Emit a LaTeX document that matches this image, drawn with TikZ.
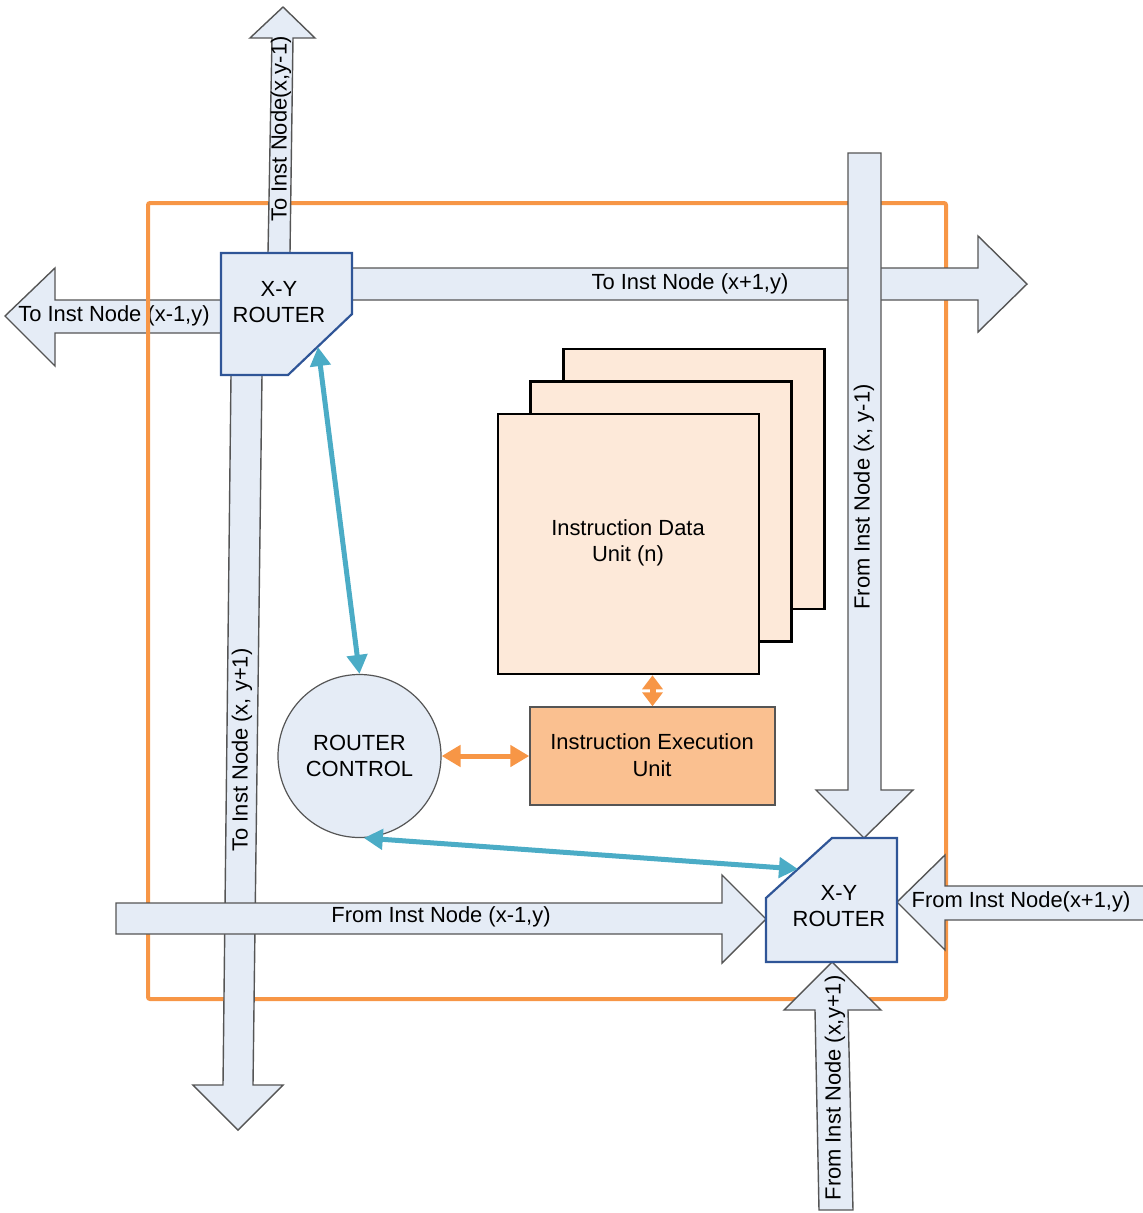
\documentclass[tikz,border=0pt]{standalone}
\usepackage{fontspec}
\setmainfont{Liberation Sans}
\usetikzlibrary{arrows.meta}

\definecolor{frameorange}{HTML}{F79646}
\definecolor{paleblue}{HTML}{E5ECF6}
\definecolor{arrowgray}{HTML}{555555}
\definecolor{routerblue}{HTML}{2F5597}
\definecolor{linkblue}{HTML}{4BACC6}
\definecolor{datafill}{HTML}{FDE9D9}
\definecolor{execfill}{HTML}{FAC090}
\definecolor{linkorange}{HTML}{F79646}

\begin{document}
\begin{tikzpicture}[x=1bp,y=-1bp,
  lbl/.style={font=\fontsize{22}{26.5}\selectfont, inner sep=0pt, align=center, text=black},
  blockarrow/.style={fill=paleblue, draw=arrowgray, line width=1.4bp, line join=miter},
  router/.style={fill=paleblue, draw=routerblue, line width=2.2bp, line join=miter},
  dataunit/.style={rectangle, fill=datafill, draw=black, line width=2.5bp, minimum width=261bp, minimum height=260bp, inner sep=0pt},
  execunit/.style={rectangle, fill=execfill, draw=arrowgray, line width=1.4bp, minimum width=245bp, minimum height=98bp, inner sep=0pt},
  ctrlunit/.style={circle, fill=paleblue, draw=arrowgray, line width=1.2bp, minimum size=163bp, inner sep=0pt},
  bluelink/.style={draw=linkblue, line width=5bp, {Triangle[length=19bp,width=20bp]}-{Triangle[length=19bp,width=20bp]}},
  orangelink/.style={draw=linkorange, line width=5bp, {Triangle[length=19bp,width=21bp]}-{Triangle[length=19bp,width=21bp]}},
  orangeshort/.style={draw=linkorange, line width=6bp, {Triangle[length=14bp,width=20bp]}-{Triangle[length=14bp,width=20bp]}}
]
\useasboundingbox (0,0) rectangle (1143,1213);

% westward output, lying under the tile border
\draw[blockarrow] (221,300) -- (55,300) -- (55,268) -- (5,316) -- (55,366) -- (55,333) -- (221,333);
\node[lbl] (lblW) at (114,316) {To Inst Node (x-1,y)};

% tile border
\draw[frameorange, line width=4bp, rounded corners=2bp] (148,203) rectangle (946,999);

% northward output
\draw[blockarrow] (268,253) -- (272,38) -- (250,38) -- (283,7) -- (315,38) -- (293,38) -- (290,253);
\node[lbl, rotate=90] (lblN) at (281,129) {To Inst Node(x,y-1)};

% eastward output
\draw[blockarrow] (352,268) -- (978,268) -- (978,236) -- (1027,284) -- (978,332) -- (978,300) -- (352,300);
\node[lbl] (lblE) at (690,284) {To Inst Node (x+1,y)};

% southward output
\draw[blockarrow] (231,375) -- (223,1085) -- (193,1085) -- (238,1130) -- (283,1085) -- (253,1085) -- (262,375);
\node[lbl, rotate=90] (lblS) at (242,750) {To Inst Node (x, y+1)};

% output router
\draw[router] (221,253) -- (352,253) -- (352,314) -- (288,375) -- (221,375) -- cycle;
\node[lbl] (xy1) at (279,302) {X-Y\\ROUTER};
\coordinate (xy1port) at (318,347);

% input from the north
\draw[blockarrow] (848,153) -- (881,153) -- (881,790) -- (913,790) -- (864,838) -- (816,790) -- (848,790) -- cycle;
\node[lbl, rotate=90] (lblFN) at (864,497) {From Inst Node (x, y-1)};

% instruction data units
\node[dataunit] (idu3) at (694,479) {};
\node[dataunit] (idu2) at (661,511.5) {};
\node[dataunit] (idu1) at (628.5,544) {};
\node[lbl] (idutext) at (628,543) {Instruction Data\\Unit (n)};

% execution unit and router control
\node[execunit] (ieu) at (652.5,756) {};
\node[lbl] (ieutext) at (652,755) {Instruction Execution\\Unit};
\node[ctrlunit] (rc) at (359.5,756) {};
\node[lbl] (rctext) at (359.5,756) {ROUTER\\CONTROL};

% input from the west
\draw[blockarrow] (116,903) -- (722,903) -- (722,875) -- (766,919) -- (722,963) -- (722,934) -- (116,934) -- cycle;
\node[lbl] (lblFW) at (441,917) {From Inst Node (x-1,y)};

% input from the east
\draw[blockarrow] (1150,886) -- (945,886) -- (945,855) -- (897,902) -- (945,950) -- (945,920) -- (1150,920);
\node[lbl] (lblFE) at (1021,902) {From Inst Node(x+1,y)};

% input from the south
\draw[blockarrow] (819,1210) -- (815,1010) -- (784,1010) -- (832,962) -- (881,1010) -- (848,1010) -- (853,1210) -- cycle;
\node[lbl, rotate=90] (lblFS) at (835,1088) {From Inst Node (x,y+1)};

% input router
\draw[router] (832,838) -- (897,838) -- (897,962) -- (766,962) -- (766,898) -- cycle;
\node[lbl] (xy2) at (839,906) {X-Y\\ROUTER};
\coordinate (xy2port) at (798,869);

% control and data links
\draw[orangeshort] (idu1.south -| ieu.north) -- (ieu.north);
\draw[orangelink] (rc.east) -- (ieu.west);
\draw[bluelink] (xy1port) -- (rc.north);
\draw[bluelink] (rc.-87) -- (xy2port);

\end{tikzpicture}
\end{document}
